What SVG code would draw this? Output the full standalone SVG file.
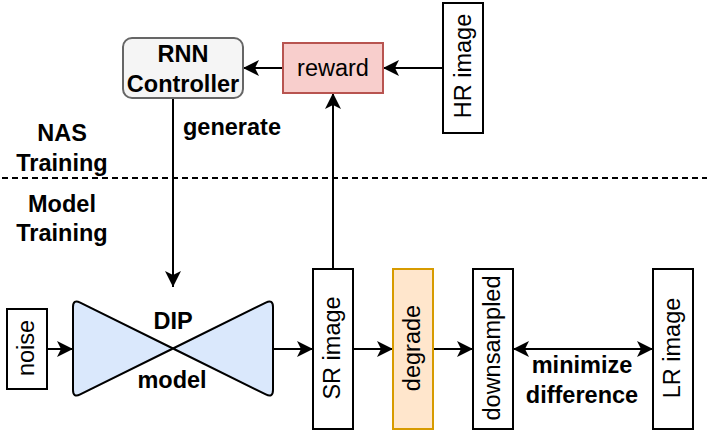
<svg xmlns="http://www.w3.org/2000/svg" width="709" height="436" viewBox="0 0 709 436">
<defs>
<marker id="arr" viewBox="0 0 16 16" refX="16" refY="8" markerWidth="16" markerHeight="16" markerUnits="userSpaceOnUse" orient="auto-start-reverse">
<path d="M0,0 L16,8 L0,16 L4,8 Z" fill="#000"/>
</marker>
</defs>
<style>
text{font-family:"Liberation Sans",Arial,sans-serif;font-size:23.5px;fill:#000;text-anchor:middle}
.b{font-weight:bold}
.box{fill:#fff;stroke:#000;stroke-width:2}
.edge{fill:none;stroke:#000;stroke-width:2}
</style>
<rect width="709" height="436" fill="#fff"/>
<g id="connectors">
<line class="edge" x1="283" y1="68" x2="243" y2="68" marker-end="url(#arr)"/>
<line class="edge" x1="443" y1="68" x2="383" y2="68" marker-end="url(#arr)"/>
<line class="edge" x1="333" y1="269" x2="333" y2="93" marker-end="url(#arr)"/>
<line class="edge" x1="173" y1="98" x2="173" y2="287" marker-end="url(#arr)"/>
<line class="edge" x1="47" y1="349" x2="73" y2="349" marker-end="url(#arr)"/>
<line class="edge" x1="273" y1="349" x2="313" y2="349" marker-end="url(#arr)"/>
<line class="edge" x1="353" y1="349" x2="393" y2="349" marker-end="url(#arr)"/>
<line class="edge" x1="433" y1="349" x2="473" y2="349" marker-end="url(#arr)"/>
<line class="edge" x1="513" y1="349" x2="653" y2="349" marker-start="url(#arr)" marker-end="url(#arr)"/>
<text class="b" x="232" y="135">generate</text>
<text class="b" x="582" y="373">minimize</text>
<text class="b" x="582" y="403">difference</text>
</g>
<g id="divider">
<line x1="2" y1="178" x2="707" y2="178" stroke="#000" stroke-width="2" stroke-dasharray="6 4"/>
<text class="b" x="62" y="141">NAS</text>
<text class="b" x="62" y="171">Training</text>
<text class="b" x="62" y="212">Model</text>
<text class="b" x="62" y="241">Training</text>
</g>
<g id="rnn">
<rect x="123" y="38" width="120" height="60" rx="9" fill="#f5f5f5" stroke="#666" stroke-width="2"/>
<text class="b" x="183" y="62">RNN</text>
<text class="b" x="183" y="92">Controller</text>
</g>
<g id="reward">
<rect x="283" y="43" width="100" height="50" fill="#f8cecc" stroke="#b85450" stroke-width="2"/>
<text x="333" y="76">reward</text>
</g>
<g id="hr">
<rect class="box" x="443" y="3" width="40" height="130"/>
<text transform="translate(463,66) rotate(-90)" y="8">HR image</text>
</g>
<g id="noise">
<rect class="box" x="7" y="309" width="40" height="80"/>
<text transform="translate(27,348) rotate(-90)" y="7">noise</text>
</g>
<g id="dip">
<path d="M73,307 L73,390 Q73,398 80.2,394.4 L173,348.5 L80.2,302.6 Q73,299 73,307 Z M273,307 L273,390 Q273,398 265.8,394.4 L173,348.5 L265.8,302.6 Q273,299 273,307 Z" fill="#dae8fc" stroke="#000" stroke-width="2" stroke-linejoin="round"/>
<text class="b" x="173" y="329">DIP</text>
<text class="b" x="172" y="388">model</text>
</g>
<g id="sr">
<rect class="box" x="313" y="269" width="40" height="160"/>
<text transform="translate(333,348) rotate(-90)" y="7">SR image</text>
</g>
<g id="degrade">
<rect x="393" y="269" width="40" height="160" fill="#ffe6cc" stroke="#d79b00" stroke-width="2"/>
<text transform="translate(413,348) rotate(-90)" y="7">degrade</text>
</g>
<g id="downsampled">
<rect class="box" x="473" y="269" width="40" height="160"/>
<text transform="translate(493,348) rotate(-90)" y="7">downsampled</text>
</g>
<g id="lr">
<rect class="box" x="653" y="269" width="40" height="160"/>
<text transform="translate(673,348) rotate(-90)" y="7">LR image</text>
</g>
</svg>
